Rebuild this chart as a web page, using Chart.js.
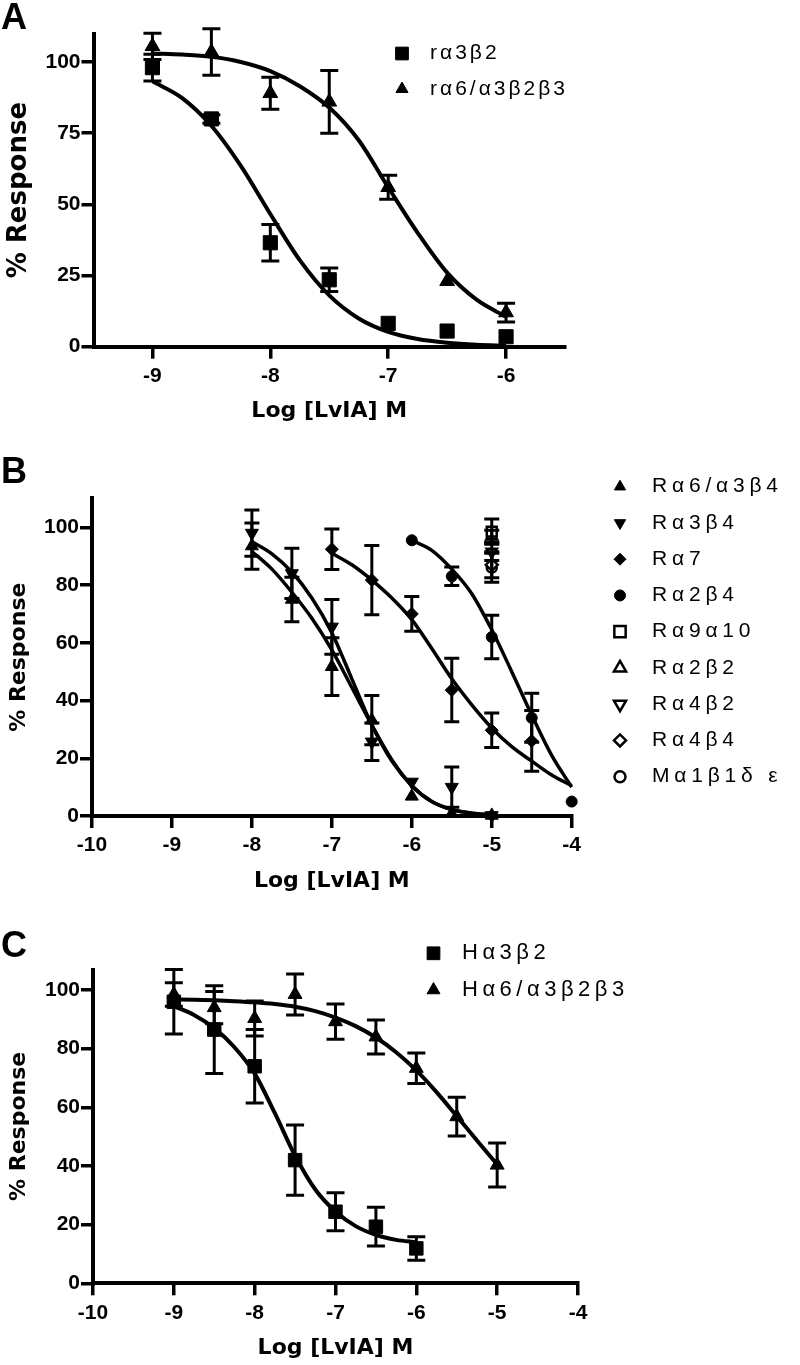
<!DOCTYPE html>
<html><head><meta charset="utf-8">
<script src="https://cdn.jsdelivr.net/npm/chart.js@4/dist/chart.umd.min.js"></script>
<style>
html,body{margin:0;padding:0;background:#fff;}
#wrap{position:relative;width:800px;height:1365px;overflow:hidden;background:#fff;}
canvas{position:absolute;left:0;}
.lbl{position:absolute;left:1px;font:bold 36px "Liberation Sans",Arial,sans-serif;line-height:36px;color:#000;}
</style></head><body>
<div id="wrap">
<canvas id="cA" width="800" height="435" style="top:0;width:800px;height:435px"></canvas>
<canvas id="cB" width="800" height="460" style="top:440px;width:800px;height:460px"></canvas>
<canvas id="cC" width="800" height="465" style="top:900px;width:800px;height:465px"></canvas>
<div class="lbl" style="top:-1px">A</div>
<div class="lbl" style="top:453px">B</div>
<div class="lbl" style="top:927px">C</div>
</div>
<script>
// ---------- Panel A data ----------
const xA = [-9, -8.5, -8, -7.5, -7, -6.5, -6];
const ra3b2A = [98, 80, 36.5, 23.5, 8.2, 5.5, 3.5];
const ra3b2A_err = [4.7, 1.5, 6.4, 4.1, 0, 0, 0];
const ra6A = [105.5, 103.5, 89, 86, 56, 23, 12];
const ra6A_err = [4.6, 8.2, 5.6, 11, 4.2, 0, 3.3];
const fitXA = [-9, -8.75, -8.5, -8.25, -8, -7.75, -7.5, -7.25, -7, -6.75, -6.5, -6.25, -6];
const ra3b2A_fit = [93.2, 87.4, 77.6, 63.5, 46.6, 30.4, 18, 9.9, 5.2, 2.7, 1.4, 0.7, 0.35];
const ra6A_fit = [103, 102.6, 101.8, 100, 96.8, 91.5, 84, 72.5, 56, 40, 26, 16.5, 10.5];
const xTicksA = [-9, -8, -7, -6];
const yTicksA = [0, 25, 50, 75, 100];
const labelsA = ['rα3β2', 'rα6/α3β2β3'];

// ---------- Panel B data ----------
const xB = [-8, -7.5, -7, -6.5, -6, -5.5, -5];
const a6a3b4B = [93.5, 75, 51.7, 33.2, 6.8, 0.8, 0.2];
const a6a3b4B_err = [8, 7.7, 10, 8.5, 0, 0, 0];
const a3b4B = [98, 84, 65.5, 25.7, 11.8, 10, 0.2];
const a3b4B_err = [8, 8.7, 9.5, 6.5, 0, 7, 0];
const xB_a7 = [-7, -6.5, -6, -5.5, -5, -4.5];
const a7B = [92.4, 81.7, 70, 43.6, 29.7, 26];
const a7B_err = [7, 12, 6, 11, 6, 10.5];
const xB_a2b4 = [-6, -5.5, -5, -4.5, -4];
const a2b4B = [95.5, 83, 62, 34, 5];
const a2b4B_err = [0, 3.2, 7.5, 8.5, 0];
const xB_single = [-5];
const a9a10B = [98.5], a9a10B_err = [4.4];
const a2b2B = [97], a2b2B_err = [2];
const a4b2B = [91.5], a4b2B_err = [3];
const a4b4B = [87], a4b4B_err = [4.5];
const m1B = [86], m1B_err = [5];
const fitXB = [-8, -7.75, -7.5, -7.25, -7, -6.75, -6.5, -6.25, -6, -5.75, -5.5, -5.25, -5];
const a6a3b4B_fit = [91.6, 85.5, 77.5, 68.5, 57.5, 44.5, 31.5, 19.5, 10.5, 5, 2.2, 1, 0.4];
const a3b4B_fit = [95, 90.8, 84.5, 75.5, 63.5, 47.5, 31.5, 19, 10.5, 5, 2.2, 1, 0.4];
const fitXB_a7 = [-7, -6.75, -6.5, -6.25, -6, -5.75, -5.5, -5.25, -5, -4.75, -4.5, -4.25, -4];
const a7B_fit = [91, 87, 81.7, 75.5, 68, 58, 47.5, 38.5, 30.5, 24, 19, 14.2, 10.5];
const fitXB_a2b4 = [-6, -5.75, -5.5, -5.25, -5, -4.75, -4.5, -4.25, -4];
const a2b4B_fit = [95.5, 92, 85.5, 77, 64.5, 50, 35, 21, 10];
const xTicksB = [-10, -9, -8, -7, -6, -5, -4];
const yTicksB = [0, 20, 40, 60, 80, 100];
const labelsB = ['Rα6/α3β4', 'Rα3β4', 'Rα7', 'Rα2β4', 'Rα9α10', 'Rα2β2', 'Rα4β2', 'Rα4β4', 'Mα1β1δ ε'];

// ---------- Panel C data ----------
const xC = [-9, -8.5, -8, -7.5, -7, -6.5, -6];
const ha3b2C = [96, 86.5, 74, 42, 24.4, 19.3, 11.9];
const ha3b2C_err = [11, 15, 12.5, 12, 6.5, 6.6, 4];
const xC2 = [-9, -8.5, -8, -7.5, -7, -6.5, -6, -5.5, -5];
const ha6C = [98.5, 94, 90.3, 98.5, 89.2, 84, 73.3, 56.8, 40.3];
const ha6C_err = [4, 5.5, 6, 7, 6, 5.8, 5.2, 6.6, 7.5];
const fitXC1 = [-9, -8.75, -8.5, -8.25, -8, -7.75, -7.5, -7.25, -7, -6.75, -6.5, -6.25, -6];
const ha3b2C_fit = [94.5, 91.5, 87, 80.5, 71.5, 58, 43.5, 32, 24.5, 19.5, 16.5, 14.8, 14];
const fitXC2 = [-9, -8.75, -8.5, -8.25, -8, -7.75, -7.5, -7.25, -7, -6.75, -6.5, -6.25, -6, -5.75, -5.5, -5.25, -5];
const ha6C_fit = [96.8, 96.7, 96.5, 96.2, 95.8, 95.2, 94.3, 92.8, 90.6, 87.7, 83.8, 78.8, 72.6, 65.2, 57, 48.7, 40.5];
const xTicksC = [-10, -9, -8, -7, -6, -5, -4];
const yTicksC = [0, 20, 40, 60, 80, 100];
const labelsC = ['Hα3β2', 'Hα6/α3β2β3'];

// ---------- helpers ----------
const FONT = '"Liberation Sans", Arial, Helvetica, sans-serif';
const TFONT = '"DejaVu Sans", Verdana, sans-serif';

function pts(xs, ys) { return xs.map((x, i) => ({ x: x, y: ys[i] })); }

function fitDS(xs, ys, w) {
  return { type: 'scatter', data: pts(xs, ys), showLine: true, borderColor: '#000', borderWidth: w,
    pointRadius: 0, cubicInterpolationMode: 'monotone', fill: false, clip: false };
}

function markDS(xs, ys, errs, label, style, r, lr, open, rot) {
  return { type: 'scatter', data: pts(xs, ys), errors: errs, legendLabel: label,
    pointStyle: style, pointRadius: r, pointRotation: rot || 0, legendRadius: lr,
    backgroundColor: open ? '#fff' : '#000', borderColor: '#000', borderWidth: open ? 2.5 : 1,
    showLine: false, clip: false };
}

const errorBars = {
  id: 'errorBars',
  afterDatasetsDraw(chart, args, o) {
    const ctx = chart.ctx, xs = chart.scales.x, ys = chart.scales.y;
    ctx.save();
    ctx.strokeStyle = '#000'; ctx.lineWidth = o.width; ctx.lineCap = 'butt';
    chart.data.datasets.forEach(ds => {
      if (!ds.errors) return;
      ds.data.forEach((p, i) => {
        const e = ds.errors[i];
        if (!e) return;
        const px = xs.getPixelForValue(p.x);
        const y1 = ys.getPixelForValue(p.y + e), y2 = ys.getPixelForValue(p.y - e);
        ctx.beginPath();
        ctx.moveTo(px, y1); ctx.lineTo(px, y2);
        ctx.moveTo(px - o.cap, y1); ctx.lineTo(px + o.cap, y1);
        ctx.moveTo(px - o.cap, y2); ctx.lineTo(px + o.cap, y2);
        ctx.stroke();
      });
    });
    ctx.restore();
  }
};

const sideLegend = {
  id: 'sideLegend',
  afterDraw(chart, args, o) {
    const ctx = chart.ctx;
    let row = 0;
    chart.data.datasets.forEach(ds => {
      if (!ds.legendLabel) return;
      const y = o.y + row * o.dy;
      ctx.save();
      ctx.fillStyle = ds.backgroundColor; ctx.strokeStyle = ds.borderColor; ctx.lineWidth = ds.borderWidth;
      Chart.helpers.drawPoint(ctx, { pointStyle: ds.pointStyle, rotation: ds.pointRotation || 0,
        radius: ds.legendRadius, borderWidth: ds.borderWidth }, o.markerX, y);
      ctx.restore();
      ctx.save();
      ctx.font = o.font; ctx.fillStyle = '#000'; ctx.textBaseline = 'middle'; ctx.textAlign = 'left';
      if ('letterSpacing' in ctx) ctx.letterSpacing = o.spacing;
      ctx.fillText(ds.legendLabel, o.textX, y);
      ctx.restore();
      row++;
    });
  }
};

function axis(min, max, tickVals, title, fixed, isX, tsize) {
  const a = {
    type: 'linear', min: min, max: max,
    afterBuildTicks: s => { s.ticks = tickVals.map(v => ({ value: v })); },
    ticks: { font: { family: FONT, size: 21, weight: 'bold' }, color: '#000', padding: isX ? 5 : 1,
      maxRotation: 0, autoSkip: false, callback: v => String(v) },
    grid: { drawOnChartArea: false, drawTicks: true, tickLength: 12, lineWidth: 3.5, color: '#000' },
    border: { display: true, width: 4, color: '#000' },
    title: { display: true, text: title, font: { family: TFONT, size: tsize, weight: 'bold' }, color: '#000',
      padding: isX ? { top: 0, bottom: 2 } : { top: 6 - (tsize - 22) * 0.6, bottom: 0 } }
  };
  if (isX) a.afterFit = s => { s.height = fixed; };
  else a.afterFit = s => { s.width = fixed; };
  return a;
}

function build(id, p) {
  return new Chart(document.getElementById(id), {
    type: 'scatter',
    data: { datasets: p.datasets },
    options: {
      responsive: false, animation: false, events: [],
      layout: { padding: p.pad },
      plugins: { legend: { display: false }, tooltip: { enabled: false },
        errorBars: { width: p.ebw, cap: p.cap }, sideLegend: p.legend },
      scales: {
        x: axis(p.xmin, p.xmax, p.xt, 'Log [LvIA] M', 80, true, 22),
        y: axis(p.ymin, p.ymax, p.yt, '% Response', p.left, false, p.ytSize || 22)
      }
    },
    plugins: [errorBars, sideLegend]
  });
}

// ---------- Panel A ----------
build('cA', {
  xmin: -9.5, xmax: -5.5, ymin: 0, ymax: 110, xt: xTicksA, yt: yTicksA, left: 93.5, ytSize: 26,
  pad: { left: 0, right: 235, top: 33.5, bottom: 8.3 }, ebw: 3, cap: 9,
  legend: { markerX: 402, textX: 430, y: 53.5, dy: 35.5, font: '21px ' + FONT, spacing: '3px' },
  datasets: [
    markDS(xA, ra3b2A, ra3b2A_err, labelsA[0], 'rect', 10, 9, false),
    markDS(xA, ra6A, ra6A_err, labelsA[1], 'triangle', 8.5, 7, false),
    fitDS(fitXA, ra3b2A_fit, 4),
    fitDS(fitXA, ra6A_fit, 4)
  ]
});

// ---------- Panel B ----------
build('cB', {
  xmin: -10, xmax: -4, ymin: 0, ymax: 110, xt: xTicksB, yt: yTicksB, left: 92,
  pad: { left: 0, right: 228.3, top: 58.4, bottom: 4 }, ebw: 3, cap: 7.5,
  legend: { markerX: 620, textX: 652, y: 46.7, dy: 36.25, font: '21px ' + FONT, spacing: '4.8px' },
  datasets: [
    markDS(xB, a6a3b4B, a6a3b4B_err, labelsB[0], 'triangle', 7.5, 6.5, false),
    markDS(xB, a3b4B, a3b4B_err, labelsB[1], 'triangle', 7.5, 6.5, false, 180),
    markDS(xB_a7, a7B, a7B_err, labelsB[2], 'rectRot', 6.5, 6, false),
    markDS(xB_a2b4, a2b4B, a2b4B_err, labelsB[3], 'circle', 5.5, 5.5, false),
    markDS(xB_single, a9a10B, a9a10B_err, labelsB[4], 'rect', 7, 8, true),
    markDS(xB_single, a2b2B, a2b2B_err, labelsB[5], 'triangle', 6, 7, true),
    markDS(xB_single, a4b2B, a4b2B_err, labelsB[6], 'triangle', 6, 7, true, 180),
    markDS(xB_single, a4b4B, a4b4B_err, labelsB[7], 'rectRot', 6, 6, true),
    markDS(xB_single, m1B, m1B_err, labelsB[8], 'circle', 5, 5.5, true),
    fitDS(fitXB, a6a3b4B_fit, 3.5),
    fitDS(fitXB, a3b4B_fit, 3.5),
    fitDS(fitXB_a7, a7B_fit, 3.5),
    fitDS(fitXB_a2b4, a2b4B_fit, 3.5)
  ]
});

// ---------- Panel C ----------
build('cC', {
  xmin: -10, xmax: -4, ymin: 0, ymax: 107, xt: xTicksC, yt: yTicksC, left: 93,
  pad: { left: 0, right: 222, top: 69.5, bottom: 1.7 }, ebw: 3, cap: 9,
  legend: { markerX: 433.5, textX: 462, y: 53.3, dy: 36.7, font: '22px ' + FONT, spacing: '4.5px' },
  datasets: [
    markDS(xC, ha3b2C, ha3b2C_err, labelsC[0], 'rect', 9.5, 9, false),
    markDS(xC2, ha6C, ha6C_err, labelsC[1], 'triangle', 8, 7.5, false),
    fitDS(fitXC1, ha3b2C_fit, 4),
    fitDS(fitXC2, ha6C_fit, 4)
  ]
});
</script>
</body></html>
